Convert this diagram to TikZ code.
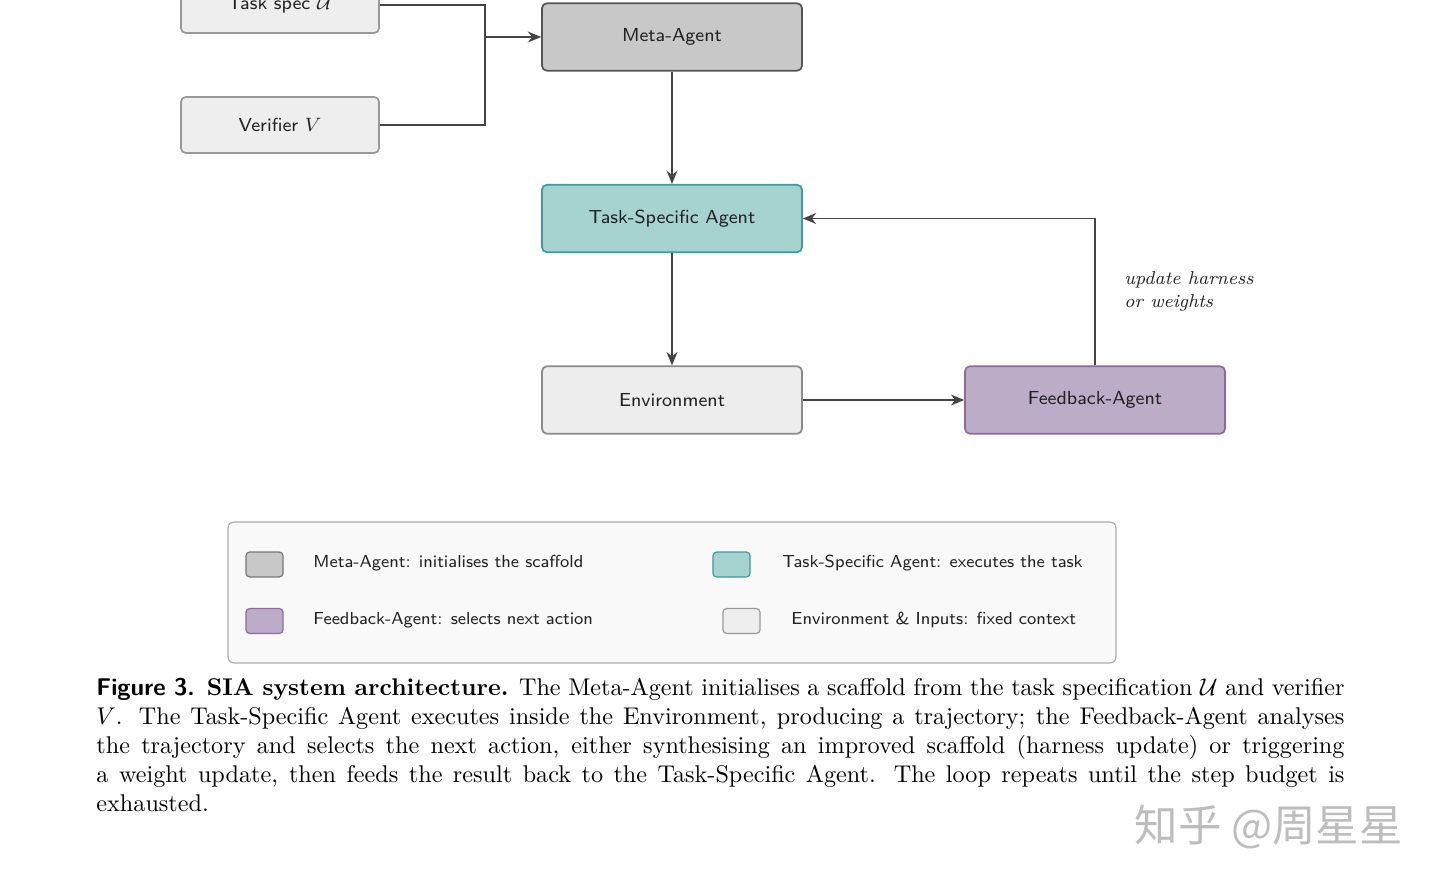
\documentclass[tikz,border=0pt]{standalone}
\usepackage{fontspec}
\newfontfamily\cjkfont{Noto Sans CJK SC}
\usetikzlibrary{arrows.meta}
\definecolor{MetaFill}{HTML}{C8C8C8}
\definecolor{MetaLine}{HTML}{555555}
\definecolor{TaskFill}{HTML}{A6D2CF}
\definecolor{TaskLine}{HTML}{3B9C98}
\definecolor{FeedFill}{HTML}{BDACC8}
\definecolor{FeedLine}{HTML}{8C6A9C}
\definecolor{EnvFill}{HTML}{EDEDED}
\definecolor{EnvLine}{HTML}{8A8A8A}
\definecolor{InFill}{HTML}{EEEEEE}
\definecolor{InLine}{HTML}{999999}
\definecolor{LegendFill}{HTML}{F9F9F9}
\definecolor{LegendLine}{HTML}{ABABAB}
\definecolor{NiceBlack}{HTML}{444444}
\definecolor{TextBlack}{HTML}{222222}
\definecolor{MarkGray}{HTML}{BDBDBD}

\begin{document}
\begin{tikzpicture}[x=0.4136pt, y=-0.4136pt,
    agent/.style={draw, line width=0.7pt, rounded corners=2pt, text=TextBlack,
      minimum width=107.5pt, minimum height=27.9pt,
      font=\fontsize{7.8}{10}\selectfont\sffamily},
    input/.style={agent, fill=InFill, draw=InLine,
      minimum width=81.9pt, minimum height=23.2pt},
    swatch/.style={draw, line width=0.5pt, rounded corners=1.5pt,
      minimum width=15.3pt, minimum height=10.3pt, inner sep=0pt},
    legtext/.style={anchor=west, inner sep=0pt, text=TextBlack,
      font=\fontsize{7.2}{9}\selectfont\sffamily},
    flow/.style={draw=NiceBlack, line width=0.8pt},
    arrow/.style={flow, -{Stealth[length=5.5pt, width=4.5pt]}}]
  \useasboundingbox (0,0) rectangle (1440,883);
  % Inputs
  \node[input] (spec) at (280,5) {Task spec $\mathcal{U}$};
  \node[input] (verifier) at (280,125) {Verifier $V$};
  % Agents
  \node[agent, fill=MetaFill, draw=MetaLine] (meta) at (672,37) {Meta-Agent};
  \node[agent, fill=TaskFill, draw=TaskLine] (task) at (672,218.5) {Task-Specific Agent};
  \node[agent, fill=EnvFill, draw=EnvLine] (env) at (672,400) {Environment};
  \node[agent, fill=FeedFill, draw=FeedLine] (feed) at (1095,400) {Feedback-Agent};
  % Arrows
  \coordinate (join) at (485,37);
  \draw[flow] (spec.east) -| (join);
  \draw[flow] (verifier.east) -| (join);
  \draw[arrow] (join) -- (meta.west);
  \draw[arrow] (meta.south) -- (task.north);
  \draw[arrow] (task.south) -- (env.north);
  \draw[arrow] (env.east) -- (feed.west);
  \draw[arrow] (feed.north) |- (task.east);
  \node[anchor=north west, inner sep=0pt, align=left, text=TextBlack,
    font=\fontsize{7.7}{9.5}\selectfont\itshape] (update) at (1124,271)
    {update harness\\or weights};
  % Legend
  \node[draw=LegendLine, fill=LegendFill, line width=0.5pt, rounded corners=2.5pt,
    minimum width=367.3pt, minimum height=58.3pt] (legend) at (672,592.5) {};
  \node[swatch, fill=MetaFill, draw=MetaLine!80] (keymeta) at (264.5,564.5) {};
  \node[swatch, fill=FeedFill, draw=FeedLine] (keyfeed) at (264.5,621) {};
  \node[swatch, fill=TaskFill, draw=TaskLine] (keytask) at (731.5,564.5) {};
  \node[swatch, fill=InFill, draw=InLine] (keyenv) at (741.5,621) {};
  \node[legtext] (txtmeta) at (313,563) {Meta-Agent: initialises the scaffold};
  \node[legtext] (txtfeed) at (313,620) {Feedback-Agent: selects next action};
  \node[legtext] (txttask) at (782,563) {Task-Specific Agent: executes the task};
  \node[legtext] (txtenv) at (791,620) {Environment \& Inputs: fixed context};
  % Caption
  \node[anchor=north west, inner sep=0pt, text width=516.2pt, align=justify,
    font=\fontsize{10}{12}\selectfont] (caption) at (96,678)
    {{\sffamily\bfseries Figure 3.}\enspace\textbf{SIA system architecture.}
    The Meta-Agent initialises a scaffold from the task specification
    $\mathcal{U}$ and verifier\linebreak $V$. The Task-Specific Agent executes
    inside the Environment, producing a trajectory; the Feedback-Agent
    analyses\linebreak the trajectory and selects the next action, either
    synthesising an improved scaffold (harness update) or triggering\linebreak
    a weight update, then feeds the result back to the Task-Specific Agent.
    The loop repeats until the step budget is\linebreak exhausted.};
  % Watermark
  \node[anchor=west, inner sep=0pt, text=MarkGray,
    font=\fontsize{18}{21}\selectfont\cjkfont] (mark) at (1134,827) {知乎 @周星星};
\end{tikzpicture}
\end{document}
